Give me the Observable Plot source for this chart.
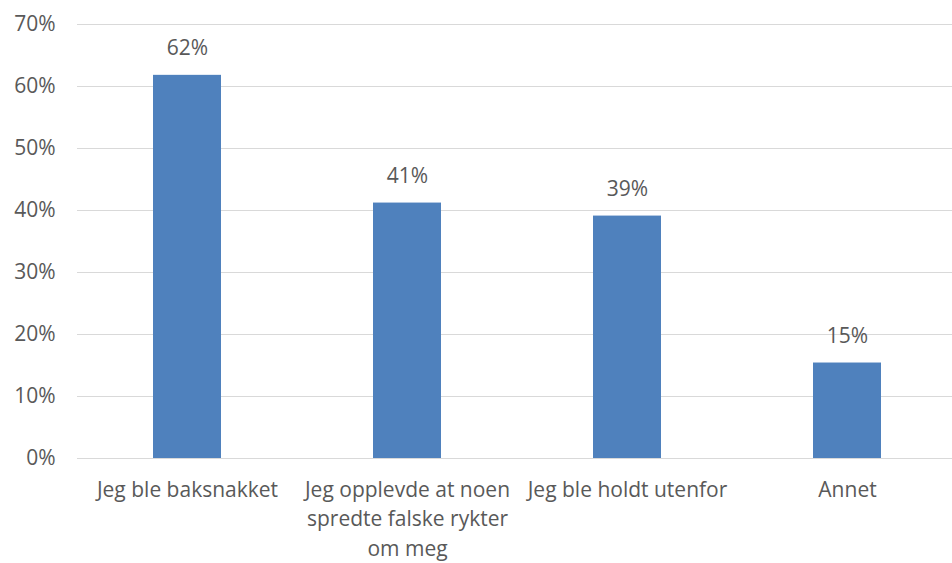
<!DOCTYPE html>
<html>
<head>
<meta charset="utf-8">
<script src="https://cdn.jsdelivr.net/npm/d3@7"></script>
<script src="https://cdn.jsdelivr.net/npm/@observablehq/plot@0.6"></script>
<style>
  html, body { margin: 0; padding: 0; background: #fff; }
  #chart svg { display: block; }
</style>
</head>
<body>
<div id="chart"></div>
<script>
const categories = [
  "Jeg ble baksnakket",
  "Jeg opplevde at noen\nspredte falske rykter\nom meg",
  "Jeg ble holdt utenfor",
  "Annet"
];
const values = [0.618, 0.412, 0.391, 0.154];
const valueLabels = ["62%", "41%", "39%", "15%"];
const yTicks = [0, 0.1, 0.2, 0.3, 0.4, 0.5, 0.6, 0.7];

const data = categories.map((c, i) => ({category: c, value: values[i], label: valueLabels[i]}));

const font = "'Open Sans', 'Segoe UI', sans-serif";
const textColor = "#595959";
const fs = 21;

const chart = Plot.plot({
  width: 952,
  height: 563,
  marginTop: 24,
  marginBottom: 105,
  marginLeft: 77,
  marginRight: 0,
  style: {fontFamily: font, fontSize: fs + "px", color: textColor, background: "#fff"},
  x: {domain: categories, range: [77, 957], paddingInner: 0.69, paddingOuter: 0.345, align: 0.5},
  y: {domain: [0, 0.7]},
  marks: [
    Plot.ruleY(yTicks, {stroke: "#d9d9d9", strokeWidth: 1}),
    Plot.barY(data, {x: "category", y: "value", fill: "#4f81bd"}),
    Plot.text(data, {x: "category", y: "value", text: "label", dy: -27, fill: textColor, fontSize: fs, textAnchor: "middle"}),
    Plot.axisY({ticks: yTicks, tickFormat: d => Math.round(d * 100) + "%", tickSize: 0, tickPadding: 22, label: null, fill: textColor, fontSize: fs}),
    Plot.axisX({tickSize: 0, tickPadding: 17, label: null, fill: textColor, fontSize: fs, lineHeight: 1.42})
  ]
});
document.getElementById("chart").appendChild(chart);
</script>
</body>
</html>
